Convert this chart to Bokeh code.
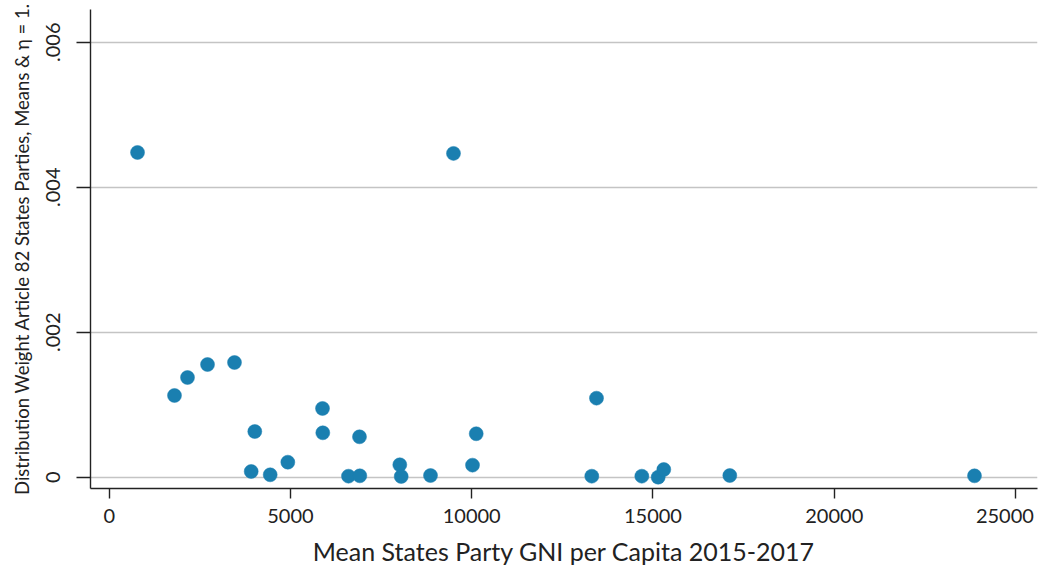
from bokeh.plotting import figure
from bokeh.models import FixedTicker, CustomJSTickFormatter, Range1d
from bokeh.embed import file_html
from bokeh.resources import INLINE

# Data
gni = [781, 9497, 1801, 2160, 2712, 3456, 4016, 3917, 4441, 4927, 5884, 5892,
       6601, 6913, 6904, 8016, 8055, 8863, 10022, 10124, 13312, 13442, 14692,
       15144, 15298, 17119, 23869]
weight = [0.004479, 0.004466, 0.001127, 0.001375, 0.001554, 0.001582, 0.000630,
          0.000079, 0.000033, 0.000207, 0.000948, 0.000612, 0.000014, 0.000019,
          0.000557, 0.000171, 0.000010, 0.000023, 0.000166, 0.000599, 0.000014,
          0.001090, 0.000014, 0.000000, 0.000106, 0.000023, 0.000019]

x_ticks = [0, 5000, 10000, 15000, 20000, 25000]
x_tick_labels = ["0", "5000", "10000", "15000", "20000", "25000"]
y_ticks = [0, 0.002, 0.004, 0.006]
y_tick_labels = ["0", ".002", ".004", ".006"]

x_title = "Mean States Party GNI per Capita 2015-2017"
y_title = "Distribution Weight Article 82 States Parties, Means & \u03b7 = 1."

FONT = "Lato"
TXT = "#222222"
DOT = "#1a7fb0"

p = figure(width=1045, height=571, output_backend="svg", toolbar_location=None,
           x_range=Range1d(-516, 25607), y_range=Range1d(-0.000156, 0.006451),
           min_border_left=90, min_border_right=8, min_border_top=9,
           min_border_bottom=83)
p.outline_line_color = None
p.background_fill_color = "white"
p.border_fill_color = "white"

p.scatter(gni, weight, size=14, fill_color=DOT, line_color=DOT, line_width=0.5)

# the last label of an axis may be padded so it is pulled inward (as Stata does)
fmt_js = """
for (let i = 0; i < tks.length; i++) {
  if (Math.abs(tks[i] - tick) < 1e-9) {
    return (i == tks.length - 1) ? lbls[i] + pad : lbls[i];
  }
}
return "";
"""

p.xaxis.ticker = FixedTicker(ticks=x_ticks)
p.xaxis.formatter = CustomJSTickFormatter(
    args=dict(tks=x_ticks, lbls=x_tick_labels, pad="\u2007"), code=fmt_js)
p.yaxis.ticker = FixedTicker(ticks=y_ticks)
p.yaxis.formatter = CustomJSTickFormatter(
    args=dict(tks=y_ticks, lbls=y_tick_labels, pad=""), code=fmt_js)

for ax in (p.xaxis[0], p.yaxis[0]):
    ax.axis_line_color = TXT
    ax.axis_line_width = 1.4
    ax.major_tick_line_color = TXT
    ax.major_tick_line_width = 1.4
    ax.minor_tick_line_color = None
    ax.major_tick_in = 0
    ax.major_label_text_font = FONT
    ax.major_label_text_font_size = "20px"
    ax.major_label_text_color = TXT
    ax.axis_label_text_font = FONT
    ax.axis_label_text_font_style = "normal"
    ax.axis_label_text_color = TXT

p.xaxis.major_tick_out = 10
p.xaxis.major_label_standoff = 4
p.xaxis.axis_label = x_title
p.xaxis.axis_label_text_font_size = "25px"
p.xaxis.axis_label_standoff = 6

p.yaxis.major_tick_out = 14
p.yaxis.major_label_orientation = "vertical"
p.yaxis.major_label_standoff = 16
p.yaxis.axis_label = y_title
p.yaxis.axis_label_text_font_size = "18.5px"
p.yaxis.axis_label_standoff = 11

p.xgrid.grid_line_color = None
p.ygrid.ticker = FixedTicker(ticks=y_ticks)
p.ygrid.grid_line_color = "#c4c4c4"
p.ygrid.grid_line_width = 1.5

open("out.html", "w").write(file_html(p, INLINE))
